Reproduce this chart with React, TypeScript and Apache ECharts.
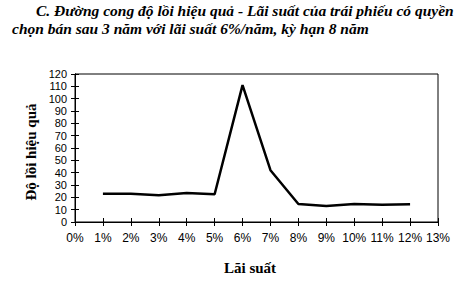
import React, { useEffect, useRef } from "react";
import * as echarts from "echarts";

const rates = [1, 2, 3, 4, 5, 6, 7, 8, 9, 10, 11, 12];
const convexity = [23, 23, 21.7, 23.5, 22.5, 111, 42, 14.6, 13, 14.5, 14, 14.3];
const titleLine1 = "C. Đường cong độ lồi hiệu quả - Lãi suất của trái phiếu có quyền";
const titleLine2 = "chọn bán sau 3 năm với lãi suất 6%/năm, kỳ hạn 8 năm";
const yName = "Độ lồi hiệu quả";
const xName = "Lãi suất";

export default function App() {
  const ref = useRef<HTMLDivElement>(null);
  useEffect(() => {
    if (!ref.current) return;
    const chart = echarts.init(ref.current, undefined, { renderer: "svg" });
    const serif = "'Liberation Serif', 'DejaVu Serif', serif";
    const sans = "'Liberation Sans Narrow', 'Liberation Sans', Arial, sans-serif";
    const axisBase = {
      type: "value" as const,
      axisLine: { show: true, lineStyle: { color: "#000", width: 1 } },
      splitLine: { show: false },
    };
    chart.setOption({
      animation: false,
      backgroundColor: "#fff",
      grid: { left: 75, top: 74, right: 30, bottom: 68, show: true, borderColor: "#000", borderWidth: 1, backgroundColor: "transparent" },
      graphic: [
        { type: "text", left: 36, top: 2, style: { text: titleLine1, font: `italic bold 15.5px ${serif}`, fill: "#000" } },
        { type: "text", left: 12, top: 20, style: { text: titleLine2, font: `italic bold 15.5px ${serif}`, fill: "#000" } },
        { type: "text", x: 250, y: 268, style: { text: xName, font: `bold 15px ${serif}`, fill: "#000", align: "center", verticalAlign: "middle" } },
        { type: "text", x: 31, y: 152, rotation: Math.PI / 2, style: { text: yName, font: `bold 15px ${serif}`, fill: "#000", align: "center", verticalAlign: "middle" } },
      ],
      xAxis: [
        {
          ...axisBase,
          min: 0, max: 13, interval: 1,
          axisTick: { show: true, length: 4, lineStyle: { color: "#000" } },
          axisLabel: { formatter: "{value}%", color: "#000", fontFamily: sans, fontSize: 12, margin: 10, showMinLabel: true, showMaxLabel: true },
        },
        {
          ...axisBase,
          position: "bottom",
          min: 0, max: 13, interval: 1,
          axisTick: { show: true, inside: true, length: 4, lineStyle: { color: "#000" } },
          axisLabel: { show: false },
        },
      ],
      yAxis: [
        {
          ...axisBase,
          min: 0, max: 120, interval: 10,
          axisTick: { show: true, length: 4, lineStyle: { color: "#000" } },
          axisLabel: { color: "#000", fontFamily: sans, fontSize: 11, lineHeight: 11, margin: 8, showMinLabel: true, showMaxLabel: true },
        },
        {
          ...axisBase,
          position: "left",
          min: 0, max: 120, interval: 10,
          axisTick: { show: true, inside: true, length: 4, lineStyle: { color: "#000" } },
          axisLabel: { show: false },
        },
      ],
      series: [
        {
          type: "line",
          data: rates.map((r, i) => [r, convexity[i]]),
          showSymbol: false,
          lineStyle: { color: "#000", width: 2.5 },
        },
      ],
    });
    return () => chart.dispose();
  }, []);
  return <div ref={ref} style={{ position: "absolute", left: 0, top: 0, width: 468, height: 290 }} />;
}
